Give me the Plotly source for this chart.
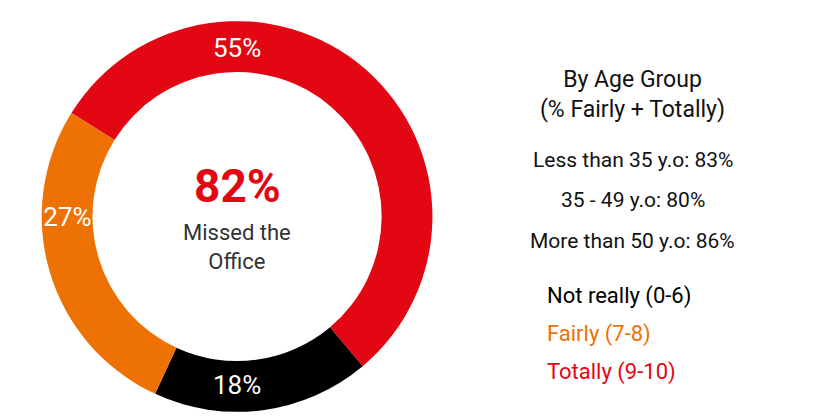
import plotly.graph_objects as go

labels = ['Totally (9-10)', 'Not really (0-6)', 'Fairly (7-8)']
values = [55, 18, 27]
colors = ['#E30613', '#000000', '#EE7203']
age_groups = ['Less than 35 y.o: 83%', '35 - 49 y.o: 80%', 'More than 50 y.o: 86%']

FONT = 'Liberation Sans Narrow, Roboto, sans-serif'

fig = go.Figure(go.Pie(
    labels=labels, values=values, hole=0.74, sort=False, direction='clockwise',
    rotation=-58, marker=dict(colors=colors, line=dict(color='white', width=0)),
    texttemplate='%{value}%', textposition='inside', insidetextorientation='horizontal',
    textfont=dict(color='white', size=26, family=FONT),
    domain=dict(x=[0.02, 0.53], y=[0.02, 0.98]), showlegend=False,
))

ann = [
    dict(x=0.275, y=0.575, text='<b>82%</b>', font=dict(size=46, color='#E30613')),
    dict(x=0.275, y=0.425, text='Missed the<br>Office', font=dict(size=22, color='#333333')),
    dict(x=0.75, y=0.8, text='By Age Group<br>(% Fairly + Totally)', font=dict(size=23, color='#111111')),
]
for i, t in enumerate(age_groups):
    ann.append(dict(x=0.75, y=0.64 - i * 0.1, text=t, font=dict(size=21, color='#111111')))
legend_items = [('Not really (0-6)', '#000000'), ('Fairly (7-8)', '#EE7203'), ('Totally (9-10)', '#E30613')]
for i, (t, c) in enumerate(legend_items):
    ann.append(dict(x=0.645, y=0.305 - i * 0.094, text=t, xanchor='left', font=dict(size=22, color=c)))

for a in ann:
    a.setdefault('xanchor', 'center')
    a.update(xref='paper', yref='paper', showarrow=False, yanchor='middle')
    a['font']['family'] = FONT

fig.update_layout(width=833, height=417, margin=dict(l=0, r=0, t=5, b=5),
                  paper_bgcolor='white', annotations=ann)
fig.write_html('out.html')
